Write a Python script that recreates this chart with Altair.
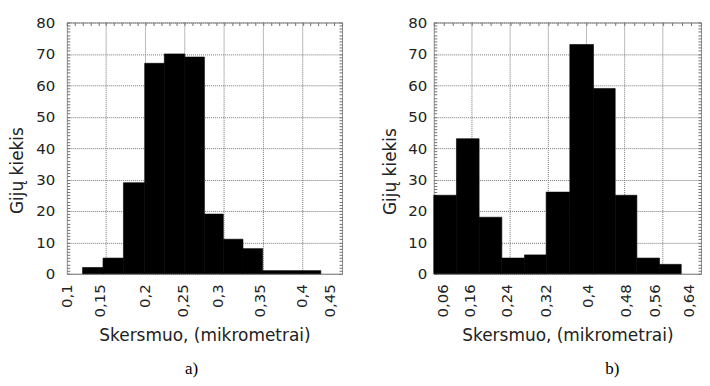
import altair as alt
import pandas as pd

# ---------- panel a) ----------
a_edges = [0.120, 0.146, 0.172, 0.199, 0.224, 0.250, 0.275, 0.299, 0.324, 0.349, 0.374, 0.399, 0.423]
a_counts = [2, 5, 29, 67, 70, 69, 19, 11, 8, 1, 1, 1]
a_domain = [0.1, 0.45]
a_grid = [0.15, 0.2, 0.25, 0.3, 0.35, 0.4]
a_label_pos = [0.1, 0.1418, 0.1989, 0.2471, 0.2915, 0.3447, 0.398, 0.4335]
a_label_txt = ["0,1", "0,15", "0,2", "0,25", "0,3", "0,35", "0,4", "0,45"]

# ---------- panel b) ----------
b_edges = [0.080, 0.1275, 0.175, 0.2226, 0.2701, 0.3155, 0.3651, 0.4147, 0.4602, 0.5056, 0.5531, 0.5986]
b_counts = [25, 43, 18, 5, 6, 26, 73, 59, 25, 5, 3]
b_domain = [0.08, 0.64]
b_grid = [0.16, 0.24, 0.32, 0.4, 0.48, 0.56]
b_label_pos = [0.0986, 0.1544, 0.2329, 0.3135, 0.4023, 0.4808, 0.5428, 0.6131]
b_label_txt = ["0,06", "0,16", "0,24", "0,32", "0,4", "0,48", "0,56", "0,64"]

x_title = "Skersmuo, (mikrometrai)"
y_title = "Gijų kiekis"

GRID = "#767676"
TICK = "#707070"
MAJOR = "datum.value % 10 === 0"


def panel(edges, counts, domain, grid, label_pos, label_txt, w, h,
          caption, cap_dx, lab_pad_y, title_pad_y, title_y):
    bars = pd.DataFrame({"x0": edges[:-1], "x1": edges[1:], "n": counts})
    grid_df = pd.DataFrame({"g": grid})
    xs = alt.Scale(domain=domain, nice=False, zero=False)
    ys = alt.Scale(domain=[0, 80], nice=False)
    expr = ("[" + ",".join("'%s'" % t for t in label_txt) + "][indexof(["
            + ",".join(repr(p) for p in label_pos) + "], datum.value)]")

    rules = alt.Chart(grid_df).mark_rule(
        color=GRID, strokeDash=[1, 1], strokeWidth=1
    ).encode(x=alt.X("g:Q", scale=xs, axis=None))

    rect = alt.Chart(bars).mark_rect(
        color="black", stroke="black", strokeWidth=0.6
    ).encode(
        x=alt.X("x0:Q", scale=xs, axis=alt.Axis(
            orient="bottom", values=label_pos, labelExpr=expr, labelAngle=-90,
            grid=False, ticks=False, domain=False, labelPadding=10,
            labelFlush=False, labelOverlap=False, title=x_title, titlePadding=11,
            titleFontSize=17)),
        x2="x1:Q",
        y=alt.Y("n:Q", scale=ys, axis=alt.Axis(
            orient="left", tickCount=80, offset=-3,
            labelExpr=MAJOR + " ? datum.label : ''", labelOverlap=False,
            labelFlush=False,
            grid=True, gridDash=[1, 1], gridColor=GRID,
            gridOpacity={"condition": {"test": MAJOR, "value": 1}, "value": 0},
            ticks=True, tickSize=3, tickColor=TICK, domain=False,
            labelPadding=lab_pad_y, title=y_title, titlePadding=title_pad_y,
            titleFontSize=17, titleY=title_y)),
        y2=alt.datum(0),
    )

    ghost = alt.Chart(bars).mark_rect(opacity=0).encode(
        x=alt.X("x0:Q", scale=xs, axis=alt.Axis(
            orient="top", labels=False, domain=False, ticks=True, tickSize=3,
            tickCount=35, offset=-3, grid=False, title=None, tickColor=TICK)),
        x2="x1:Q",
        y=alt.Y("n:Q", scale=ys, axis=alt.Axis(
            orient="right", labels=False, domain=False, ticks=True, tickSize=3,
            tickCount=80, offset=-3, grid=False, title=None, tickColor=TICK)),
        y2=alt.datum(0),
    )

    return alt.layer(rules, rect, ghost).resolve_axis(
        x="independent", y="independent"
    ).properties(
        width=w, height=h,
        title=alt.TitleParams(caption, orient="bottom", frame="group",
                              anchor="middle", dx=cap_dx, offset=17,
                              font="Liberation Serif", fontSize=17,
                              fontWeight="normal", color="black"),
    )


pa = panel(a_edges, a_counts, a_domain, a_grid, a_label_pos, a_label_txt,
           276, 252, "a)", -13, 12, 9, 148)
pb = panel(b_edges, b_counts, b_domain, b_grid, b_label_pos, b_label_txt,
           268, 252, "b)", 45, 7, 8, 149)

chart = alt.hconcat(pa, pb, spacing=38).properties(
    padding={"left": 0, "top": 6, "right": 0, "bottom": 0}
).configure_view(
    stroke="#8c8c8c", strokeWidth=1
).configure_axis(
    labelFont="DejaVu Sans", labelFontSize=15, labelColor="#222",
    titleFont="DejaVu Sans", titleFontSize=15, titleFontWeight="normal",
    titleColor="#222"
)

chart.save("out.html", embed_options={"renderer": "svg", "actions": False})
